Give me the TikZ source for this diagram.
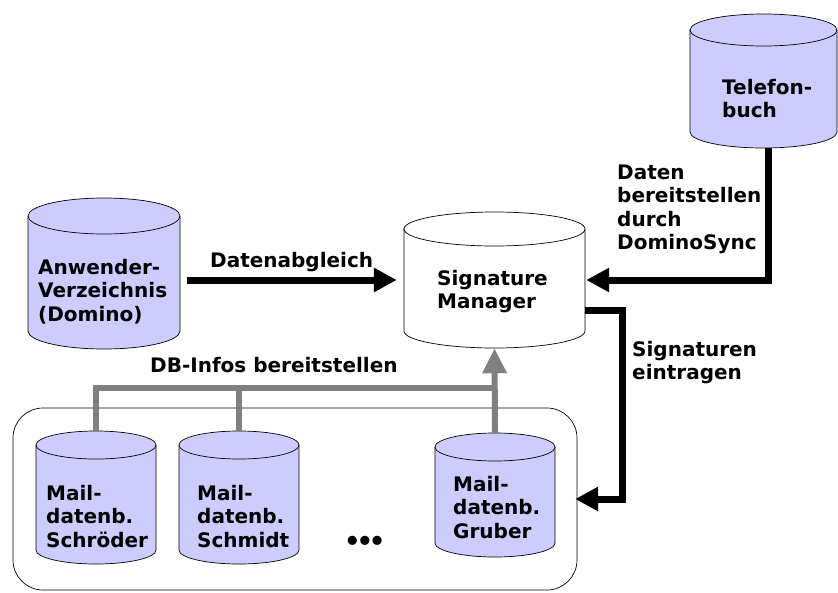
\documentclass[tikz,border=0pt]{standalone}
\usepackage{fontspec}
\setmainfont{DejaVu Sans}
\usetikzlibrary{arrows.meta,calc}
\definecolor{dbfill}{RGB}{204,204,255}
\definecolor{busgray}{RGB}{128,128,128}
\newcommand{\dbcyl}[7]{%
  \pgfmathsetmacro\cylrx{(#3-#2)/2}%
  \pgfmathsetmacro\cylcx{(#2+#3)/2}%
  \pgfmathsetmacro\cylcy{(#4+#5)/2}%
  \pgfmathsetmacro\cylw{#3-#2}%
  \pgfmathsetmacro\cylh{#5-#4+2*#6}%
  \path[draw=black,fill=#7,line width=0.7pt] (#2,#4) -- (#2,#5)
    arc[start angle=180,end angle=360,x radius=\cylrx pt,y radius=#6pt]
    -- (#3,#4)
    arc[start angle=0,end angle=180,x radius=\cylrx pt,y radius=#6pt] -- cycle;
  \draw[line width=0.7pt] (#2,#4) arc[start angle=180,end angle=360,x radius=\cylrx pt,y radius=#6pt];
  \node[inner sep=0,minimum width=\cylw pt,minimum height=\cylh pt] (#1) at (\cylcx,\cylcy) {};
}
\tikzset{
  lbl/.style={anchor=base west,inner sep=0,align=left,font=\bfseries\fontsize{20}{23.5}\selectfont},
  blackarrow/.style={line width=7pt,line join=miter,-{Triangle[length=23pt,width=23pt]}},
  grayline/.style={line width=6pt,draw=busgray,line join=miter},
  grayarrow/.style={grayline,-{Triangle[length=25pt,width=23pt]}},
}
\begin{document}
\begin{tikzpicture}[x=1pt,y=-1pt]
\useasboundingbox (0,0) rectangle (838,592);
% container
\draw[line width=0.7pt,rounded corners=30pt] (13,408) rectangle (577,590);
\node[inner sep=0,minimum width=564pt,minimum height=182pt] (box) at (295,499) {};
% cylinders
\dbcyl{anw}{28}{180}{216}{331}{18}{dbfill}
\dbcyl{sm}{404}{585}{229}{331}{17}{white}
\dbcyl{tel}{690}{837}{30}{132}{16}{dbfill}
\dbcyl{mdbA}{36}{156}{445}{550}{14}{dbfill}
\dbcyl{mdbB}{179}{299}{445}{550}{14}{dbfill}
\dbcyl{mdbC}{435}{555}{447}{543}{14}{dbfill}
% texts in cylinders (anchor = baseline of last line)
\node[lbl] (anwt) at (38,321) {Anwender-\\Verzeichnis\\(Domino)};
\node[lbl] (smt) at (437,308.5) {Signature\\Manager};
\node[lbl] (telt) at (722,117.5) {Telefon-\\buch};
\node[lbl] (mdbAt) at (46,547) {Mail-\\datenb.\\Schröder};
\node[lbl] (mdbBt) at (197,547) {Mail-\\datenb.\\Schmidt};
\node[lbl] (mdbCt) at (453,538) {Mail-\\datenb.\\Gruber};
\node[anchor=west,inner sep=0,font=\bfseries\fontsize{26}{28}\selectfont] (dots) at (344,543) {•\kern-4.3pt•\kern-4.3pt•};
% labels
\node[lbl] (l1) at (210,267) {Datenabgleich};
\node[lbl] (l2) at (150,372) {DB-Infos bereitstellen};
\node[lbl] (l3) at (617,249.5) {Daten\\bereitstellen\\durch\\DominoSync};
\node[lbl] (l4) at (632,379.5) {Signaturen\\eintragen};
% connectors
\coordinate (bus) at (0,388);
\coordinate (sigR) at (622,0);
\draw[blackarrow,shorten <=7pt,shorten >=7pt] (anw.east |- sm.west) -- (sm.west);
\draw[blackarrow,shorten >=1pt] ([xshift=5pt]tel.south) |- (sm.east);
\draw[blackarrow,shorten >=-2pt] ([yshift=-30pt]sm.east) -| (sigR |- box.east) -- (box.east);
\draw[grayline] (mdbA.north) -- (mdbA.north |- bus) -- (mdbC.north |- bus);
\draw[grayline] (mdbB.north) -- (mdbB.north |- bus);
\draw[grayarrow] (mdbC.north) -- (sm.south);
\end{tikzpicture}
\end{document}
